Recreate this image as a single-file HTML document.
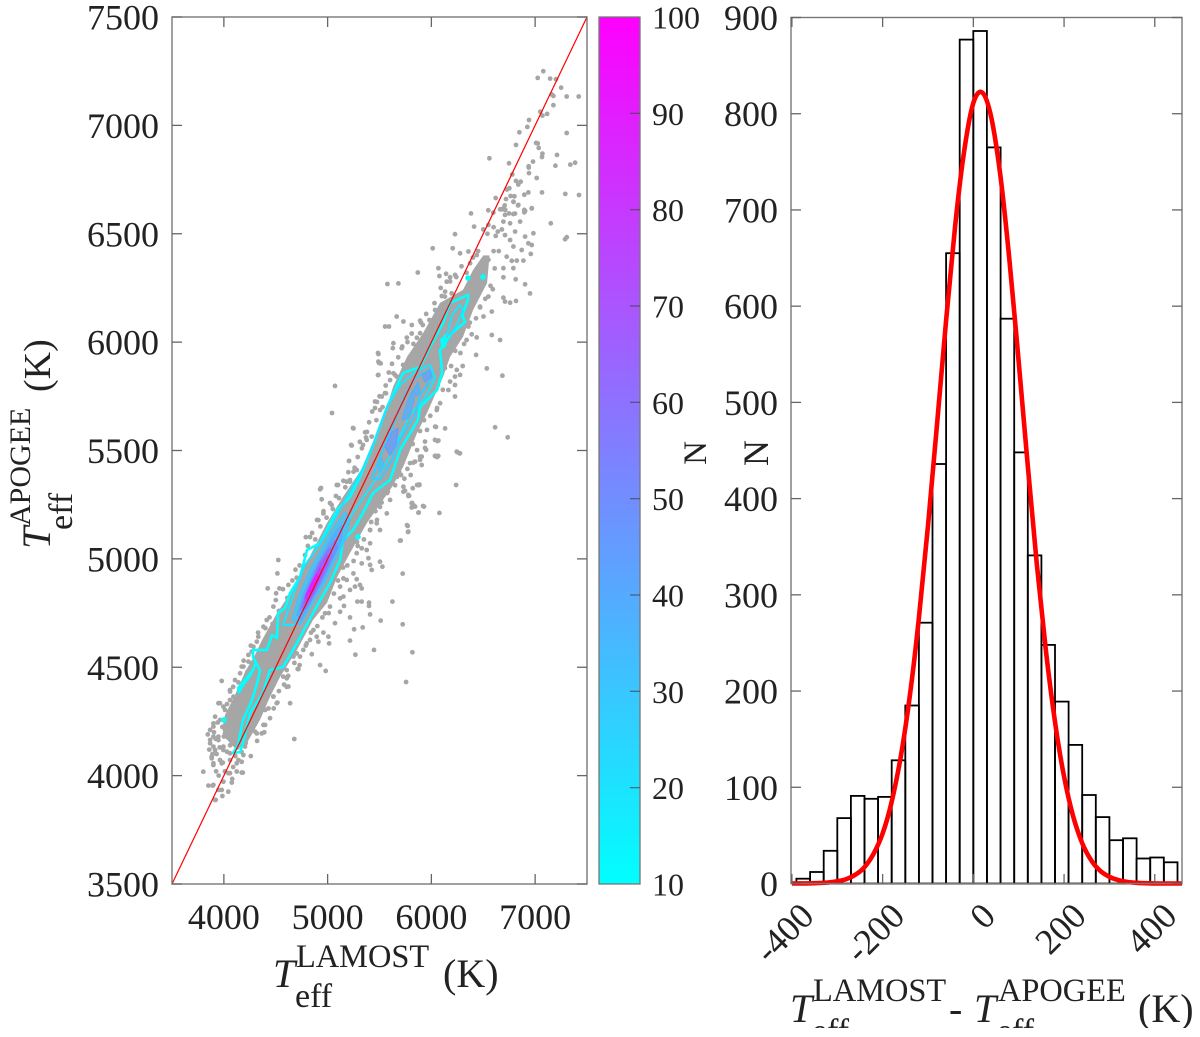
<!DOCTYPE html>
<html>
<head>
<meta charset="utf-8">
<title>LAMOST vs APOGEE effective temperature</title>
<style>
html,body{margin:0;padding:0;background:#fff;}
#fig{display:block;width:1200px;height:1037px;filter:blur(.35px);font-family:"Liberation Serif",serif;fill:#222;}
</style>
</head>
<body>
<svg id="fig" xmlns="http://www.w3.org/2000/svg" width="1200" height="1037" viewBox="0 0 1200 1037">
  <defs>
    <clipPath id="scatter-clip"><rect x="172" y="17" width="415" height="867"/></clipPath>
    <clipPath id="title-clip"><rect x="780" y="960" width="420" height="68"/></clipPath>
    <linearGradient id="cool" x1="0" y1="1" x2="0" y2="0">
      <stop offset="0" stop-color="#00ffff"/><stop offset="1" stop-color="#ff00ff"/>
    </linearGradient>
  </defs>
  <rect width="1200" height="1037" fill="#fff"/>
  <g id="left-plot"></g>
  <g id="cbar">
    <rect x="599" y="17" width="41" height="867" fill="url(#cool)" stroke="#777" stroke-width="1.3"/>
  </g>
  <g id="right-plot"></g>

  <g>
    <text x="273" y="987" font-size="40" font-style="italic">T</text>
    <text x="296" y="967" font-size="32.4">LAMOST</text>
    <text x="295" y="1007" font-size="34">eff</text>
    <text x="443" y="987" font-size="40">(K)</text>
  </g>
  <g>
    <text transform="translate(50,549) rotate(-90)" font-size="40" font-style="italic">T</text>
    <text transform="translate(30,526) rotate(-90)" font-size="30">APOGEE</text>
    <text transform="translate(72,530) rotate(-90)" font-size="34">eff</text>
    <text transform="translate(50,392) rotate(-90)" font-size="38">(K)</text>
  </g>
  <text transform="translate(706,453) rotate(-90)" text-anchor="middle" font-size="33">N</text>
  <text transform="translate(768,453) rotate(-90)" text-anchor="middle" font-size="36">N</text>
  <g clip-path="url(#title-clip)">
    <text x="790" y="1022" font-size="40" font-style="italic">T</text>
    <text x="813" y="1001" font-size="32.4">LAMOST</text>
    <text x="812" y="1042" font-size="34">eff</text>
    <text x="949" y="1022" font-size="40">-</text>
    <text x="974" y="1022" font-size="40" font-style="italic">T</text>
    <text x="998" y="1001" font-size="32.4">APOGEE</text>
    <text x="997" y="1042" font-size="34">eff</text>
    <text x="1138" y="1022" font-size="40">(K)</text>
  </g>
</svg>
<script>
// ---------- scatter panel data (Kelvin) ----------
const scatterTicksX = [4000, 5000, 6000, 7000];
const scatterTicksY = [3500, 4000, 4500, 5000, 5500, 6000, 6500, 7000, 7500];
const scatterRangeX = [3500, 7500];
const scatterRangeY = [3500, 7500];
const oneToOne = [[3500, 3500], [7500, 7500]];

// dense core of the star cloud, where individual stars merge
const starCore = [[3990,4230],[4011,4280],[4107,4372],[4204,4478],[4300,4557],[4368,4626],[4512,4750],[4705,4889],[4859,5041],[4994,5166],[5148,5286],[5341,5424],[5505,5595],[5630,5793],[5765,5932],[5920,6042],[6083,6181],[6305,6241],[6402,6333],[6500,6400],[6560,6400],[6537,6273],[6402,6148],[6305,6024],[6180,5932],[6112,5839],[5958,5673],[5862,5581],[5727,5424],[5621,5332],[5380,5166],[5216,5027],[5091,4916],[4994,4797],[4859,4718],[4705,4580],[4541,4455],[4445,4363],[4348,4257],[4223,4151],[4120,4120],[4040,4160]];

// individually visible stars: [T LAMOST, T APOGEE]
const stars = [
[7079,7250],[7025,7219],[7144,7216],[7201,7213],[7250,7174],[7160,7143],[7176,7136],[7304,7133],[7420,7133],[7176,7093],[7050,7063],[7070,7045],[7115,7053],[6941,7025],[6925,6993],[6848,6968],[7304,6965],[6816,6910],[7009,6919],[7025,6917],[7034,6896],[6559,6848],[7070,6870],[7066,6854],[7211,6864],[6748,6825],[6980,6833],[6938,6811],[6938,6805],[7195,6814],[7339,6819],[7385,6828],[6941,6780],[6780,6774],[7015,6757],[6816,6744],[6861,6740],[6838,6727],[6752,6710],[6729,6704],[6935,6691],[6896,6680],[7066,6691],[7291,6684],[7423,6679],[6620,6665],[6764,6674],[6800,6673],[6719,6660],[6793,6647],[6835,6631],[6707,6631],[6967,6617],[6681,6613],[6662,6613],[6896,6610],[6896,6599],[6549,6608],[6382,6594],[6597,6597],[6748,6594],[6806,6593],[6713,6610],
[6694,6618],[6791,6648],[6839,6633],[6968,6618],[6903,6605],[6710,6587],[6791,6591],[6855,6556],[7151,6548],[6412,6533],[6550,6541],[6694,6556],[6759,6548],[6807,6510],[6983,6502],[7305,6484],[7289,6475],[6228,6498],[6710,6494],[6903,6487],[6759,6471],[6935,6456],[6968,6448],[6013,6433],[6206,6433],[6791,6441],[6871,6425],[6277,6410],[6357,6418],[6437,6402],[6958,6407],[6726,6394],[6823,6376],[6887,6376],[6775,6375],[6373,6364],[6068,6341],[6694,6341],[6791,6341],[5869,6321],[6142,6315],[6229,6310],[6077,6305],[6180,6299],[6694,6299],[6813,6290],[6148,6279],[5576,6268],[5682,6271],[6903,6267],[6592,6244],[6132,6233],[6196,6225],[6550,6210],[6694,6205],[6951,6225],[6816,6190],[6710,6187],[6759,6182],[6100,6213],[6469,6164],[6582,6141],[6036,6148],[5666,6118],[5891,6099],[5730,6095],[5981,6102],[6502,6118],[5554,6072],[5592,6072],[5811,6079],[5917,6079],[6357,6072],[5891,6041],[5763,6021],[6389,6036],[6437,6022],[6582,6033],[6662,6010],[5634,5995],[5827,5992],[6315,5992],[5714,5972],[5628,5972],[5489,5945],[6431,5941],[5489,5910],[5512,5902],[6534,5879],[6302,5890],[6245,5872],[5489,5849],[5634,5856],[6685,5845],[6277,5849],[6228,5841],[6180,5818],[6228,5802],[5602,5825],[5666,5841],[5457,5726],[5563,5764],[5522,5749],[6164,5779],[6228,5749],[6084,5718],[6052,5687],[5506,5687],[5249,5602],[6036,5610],[6132,5602],[6614,5607],[6736,5561],[5361,5584],[5425,5564],[5377,5549],[5232,5523],[6068,5546],[5939,5541],[6036,5475],[6061,5475],[6251,5492],[6270,5487],[5891,5472],[5207,5452],[5907,5433],[5843,5449],[5281,5410],[5249,5402],[5801,5387],[5885,5341],[6238,5341],[5820,5326],[5730,5333],[5152,5360],[5730,5310],[5779,5290],[5216,5356],
[6058,5544],[6244,5495],[6276,5487],[6035,5475],[6067,5475],[5949,5503],[5907,5472],[5827,5444],[5891,5457],[5769,5415],[5708,5387],[5884,5343],[5746,5314],[5785,5291],[5810,5257],[5833,5246],[5929,5241],[5810,5237],[5878,5214],[6077,5212],[5772,5152],[5778,5126],[5704,5085],[5724,4932],[5724,4698],[5817,4569],[5756,4432],
[4927,5321],[4943,5275],[5088,5341],[5184,5356],[5039,5249],[4911,5179],[4959,5210],[5874,5341],[5778,5295],[5875,5213],[5843,5241],[5698,5084],[5624,4803],[5447,4580],[5409,4744],[5512,4715],[5399,4798],[5399,4783],[5287,4803],[5328,4803],[5255,4675],[5338,4684],[5216,4730],[5216,4623],[5268,4558],[5409,4972],[5528,4964],[5425,4949],[5505,4987],[5393,5003],[5264,4872],[5312,4880],[5328,4864],[5280,4906],[5120,4818],[5158,4783],[5120,4756],[5071,4703],[5007,4641],[5014,4610],[4959,4660],[4911,4618],[4847,4560],[4927,4510],[4981,4483],[4712,4492],[4606,4449],[4606,4410],[4638,4334],[4516,4337],[4679,4169],[4172,4014],[3802,4018],[3979,4437],
[4422,4864],[4525,4995],[4516,4933],[4535,4864],[4503,4841],[4622,4880],[4702,4913],[4782,5018],[4477,4780],[4413,4718],[4381,4687],[4332,4641],[4268,4572],[4172,4503],[4236,4526],[4107,4441],[4059,4395],[4124,4364],[3963,4334],[4011,4303],[3915,4272],[3899,4226],[3899,4180],[3867,4149],[3947,4164],[3883,4087],[3899,4057],[3995,4118],[3963,4072],[4124,4057],[4059,4011],[3851,3954],[3899,3957],[3995,3972],[4043,3926],[3915,3888],[3979,3934],[4059,4072],[4172,4064],[4091,4234],[4075,4287],[4011,4211],[4124,4303],[4172,4318],[4059,4349],[4252,4380],[4236,4441],[4156,4380],[4300,4472],[4332,4533],[4381,4564],[4445,4626],[4541,4687],[4606,4749],[4638,4826],[4750,4926],
[4220,4195],[4300,4203],[4381,4234],[4349,4287],[4397,4303],[4477,4364],[4509,4334],[4445,4410],[4573,4457],[4606,4487],[4670,4549],[4734,4549],[4766,4580],[4830,4626],[4895,4641],[5023,4780],[5152,4826],[5216,4857],[5184,4903],[5248,4933],[5328,4979],[5377,5041],[5409,5072],[5505,5133],[5473,5164],[5570,5210],[5602,5272],[5473,5272],[5409,5133],[5328,5049],[5280,5026],[5152,4910],[5120,4872],[4991,4833],[4975,4749],[4863,4672],[4798,4610],[4702,4564],
[3892,3954],[3921,3888],[3986,3906],[3947,3934],[4076,3968],[4182,4014],[4124,4019],[4043,4011],[3899,4049],[3979,4057],[3883,4080],[3915,4118],[3867,4165],[3899,4134],[3995,4134],[4060,4103],[4140,4072],[4188,4095],[3947,4180],[3867,4211],[3899,4241],[3963,4257],[4011,4195],[4092,4195],[4076,4226],[3947,4334],[3995,4318],[4060,4280],[4140,4257],[4060,4388],[4092,4364],[4156,4349],[4188,4503],[4156,4472],[4268,4518],[4236,4557],[4285,4595],[4317,4618],[4622,4411],[4718,4492],[4477,4365],[4445,4265],[4397,4234],[4317,4195],[4204,4134],[4188,4195],[4365,4195],
[5071,5798],[5042,5673],[5245,5604],[5226,5526],[5206,5452],[4936,5327],[6045,5609],[6035,5549],[5939,5512],[6055,5470],[5814,5258],[5862,5341],[5920,5244],[5765,5156],[5775,5124],[5486,5950],[5495,5904],[5486,5848],[5476,5724],[5457,5696],[5553,5765],[5650,5849],[5727,5895],[5380,5586],[5341,5526],[5216,5364],[5100,5341],[5023,5258],[4898,5180],[4830,5101],[6055,5696],[5958,5595],[5862,5502],[5794,5442],[5669,5378],[5573,5304],[5505,5240],[5476,5180],[5409,5133],[5283,5078]
];
// stars that crowd the lower tip and both flanks of the cloud
const fringeStars = [
[3930,4100],[3990,4060],[4030,4110],[4090,4040],[4110,4090],[4060,4140],[3960,4130],[3920,4170],[4000,4180],[4130,4130],[4170,4110],[4210,4150],[3905,4200],[3940,4245],[3985,4225],[4040,4175],[3890,4100],[3925,4020],[3950,4000],[4010,4020],[4080,3985],[3860,4120],[3845,4190],
[4030,4330],[4090,4410],[4140,4430],[4190,4530],[4230,4480],[4260,4600],[4300,4530],[4330,4660],[4370,4590],[4400,4680],[4440,4730],[4470,4700],[4500,4810],[4530,4760],[4570,4860],[4610,4820],[4660,4900],[4690,4950],[4730,4970],[4770,4960],[4810,5060],[4790,5100],[4850,5120],[4880,5090],[4930,5150],[4960,5220],[4990,5190],[5050,5230],[5080,5290],[5110,5280],[5170,5330],[5200,5400],[5260,5420],[5290,5470],[5330,5510],[5310,5540],[5370,5560],[5400,5630],[5430,5680],[5470,5640],[5500,5750],[5530,5700],[5560,5800],[5590,5860],[5620,5900],[5680,5930],[5720,5980],[5770,6000],[5810,6040],[5860,6020],[5900,6090],[5950,6130],[5990,6100],[6030,6180],[6090,6250],[6130,6210],[6180,6280],[6240,6300],[6290,6350],[6340,6320],[6400,6390],[6450,6420],[6500,6520],[6540,6500],[6600,6530],[6640,6510],[6680,6520],[6620,6490],
[4260,4090],[4320,4160],[4390,4200],[4430,4310],[4480,4310],[4530,4390],[4580,4420],[4620,4460],[4680,4520],[4730,4510],[4790,4600],[4840,4660],[4900,4690],[4950,4730],[5010,4750],[5060,4840],[5100,4900],[5150,4960],[5190,4970],[5250,4990],[5290,5060],[5350,5090],[5420,5170],[5460,5220],[5520,5260],[5580,5310],[5650,5340],[5690,5400],[5740,5370],[5760,5500],[5820,5530],[5890,5590],[5930,5640],[5990,5660],[6000,5750],[6060,5800],[6110,5780],[6130,5880],[6190,5890],[6230,5960],[6280,5950],[6340,6010],[6370,6090],[6430,6110],[6470,6160],[6520,6200],[6570,6260],[6610,6340],[6650,6420],[6600,6420],[6550,6380]
];

// density contours: a level (N) and a closed outline in Kelvin
const contourLevels = [10, 10, 10, 20, 20, 28, 30, 32, 38, 38, 40, 42, 45, 50, 60, 70, 80, 90];
const contourOutlines = [
[[4088,4104],[4136,4141],[4184,4257],[4271,4349],[4329,4441],[4348,4487],[4281,4547],[4281,4580],[4416,4580],[4464,4649],[4512,4635],[4522,4750],[4589,4773],[4638,4843],[4734,4917],[4801,5041],[4927,5073],[5091,5226],[5216,5286],[5312,5378],[5438,5526],[5573,5701],[5727,5858],[5891,5885],[5987,5978],[6112,6088],[6180,6181],[6353,6218],[6353,6195],[6296,6125],[6325,6093],[6199,6042],[6083,5964],[6103,5858],[6055,5779],[5891,5701],[5871,5641],[5698,5502],[5602,5364],[5438,5304],[5341,5212],[5245,5133],[5148,5087],[5120,4995],[5023,4889],[4859,4750],[4705,4612],[4570,4501],[4445,4487],[4377,4381],[4252,4289],[4184,4151],[4156,4109]],
[[4300,4511],[4281,4487],[4204,4441],[4136,4404],[4146,4385],[4185,4418],[4252,4460]],
[[6100,6000],[6130,6030],[6135,5985],[6110,5975]],
[[4570,4695],[4686,4857],[4782,4972],[4975,5101],[5168,5272],[5332,5410],[5457,5549],[5582,5710],[5698,5802],[5843,5862],[5987,5895],[6035,5835],[5939,5742],[5794,5664],[5679,5549],[5553,5433],[5428,5341],[5293,5249],[5168,5156],[5071,5041],[4975,4940],[4830,4820],[4686,4695]],
[[6151,6033],[6199,6125],[6276,6172],[6305,6148],[6247,6079],[6180,6033]],
[[5428,5373],[5553,5526],[5650,5641],[5746,5756],[5843,5835],[5987,5872],[6006,5835],[5891,5756],[5843,5664],[5698,5549],[5621,5456],[5505,5364]],
[[4657,4718],[4715,4820],[4830,4949],[4946,5050],[5062,5147],[5168,5216],[5216,5179],[5168,5087],[5071,4995],[4975,4893],[4859,4797],[4734,4695]],
[[5476,5433],[5515,5466],[5544,5433],[5505,5401]],
[[5717,5641],[5775,5733],[5823,5779],[5833,5733],[5785,5650]],
[[5833,5779],[5871,5816],[5891,5770],[5852,5752]],
[[4705,4741],[4763,4833],[4859,4940],[4975,5041],[5071,5124],[5139,5156],[5139,5087],[5042,4995],[4946,4893],[4830,4797],[4744,4718]],
[[5910,5849],[5987,5872],[6006,5839],[5939,5816]],
[[5553,5516],[5621,5586],[5679,5604],[5660,5526],[5602,5479]],
[[4734,4764],[4801,4857],[4888,4949],[4994,5041],[5071,5087],[5091,5050],[5004,4958],[4907,4866],[4801,4773]],
[[4753,4778],[4830,4880],[4927,4986],[5023,5050],[5042,5018],[4956,4926],[4859,4833],[4772,4764]],
[[4772,4797],[4840,4880],[4927,4967],[4994,5018],[5004,4986],[4917,4903],[4840,4824]],
[[4782,4820],[4850,4893],[4927,4958],[4946,4940],[4869,4857],[4801,4810]],
[[4792,4833],[4850,4889],[4898,4926],[4907,4912],[4850,4857]]
];
// isolated single-bin contour islands
const contourSpots = [[4001,4257],[5293,5101],[6353,6296],[6498,6301],[6112,6010]];

// ---------- colorbar data ----------
const cbarRange = [10, 100];
const cbarTicks = [20, 30, 40, 50, 60, 70, 80, 90];
const cbarLabels = [10, 20, 30, 40, 50, 60, 70, 80, 90, 100];

// ---------- histogram data ----------
const histRangeX = [-402, 460];
const histRangeY = [0, 900];
const histTicksX = [-400, -200, 0, 200, 400];
const histTicksY = [0, 100, 200, 300, 400, 500, 600, 700, 800, 900];
const binEdges = [-390,-360,-330,-300,-270,-240,-210,-180,-150,-120,-90,-60,-30,0,30,60,90,120,150,180,210,240,270,300,330,360,390,420,450];
const binCounts = [5,12,34,68,91,88,90,128,185,271,436,655,877,886,765,587,448,341,248,189,144,92,69,45,47,26,27,22];
const fitDeltaT = [-400,-380,-360,-340,-320,-300,-280,-260,-240,-220,-200,-180,-160,-140,-120,-100,-80,-60,-40,-20,0,20,40,60,80,100,120,140,160,180,200,220,240,260,280,300,320,340,360,380,400,420,440,460];
const fitCounts = [0,0.1,0.2,0.5,1,2.3,4.6,9.1,17,31,52,85,132,195,276,372,478,585,684,762,811,822,795,734,646,542,434,332,242,168,111,70,42,24,13,7,3.5,1.6,0.7,0.3,0.1,0,0,0];

// ---------- axis functions ----------
const SVGNS = 'http://www.w3.org/2000/svg';
const sx = v => 172 + (v - scatterRangeX[0]) / (scatterRangeX[1] - scatterRangeX[0]) * 415;
const sy = v => 884 - (v - scatterRangeY[0]) / (scatterRangeY[1] - scatterRangeY[0]) * 867;
const cy = v => 884 - (v - cbarRange[0]) / (cbarRange[1] - cbarRange[0]) * 867;
const hx = v => 791 + (v - histRangeX[0]) / (histRangeX[1] - histRangeX[0]) * 391;
const hy = v => 883.5 - (v - histRangeY[0]) / (histRangeY[1] - histRangeY[0]) * 866;
const coolColor = n => {
  const t = (n - cbarRange[0]) / (cbarRange[1] - cbarRange[0]);
  return 'rgb(' + Math.round(255 * t) + ',' + Math.round(255 * (1 - t)) + ',255)';
};
const mk = (tag, parent) => {
  const el = document.createElementNS(SVGNS, tag);
  parent.appendChild(el);
  return el;
};
const polyPoints = (list) => list.map(p => sx(p[0]).toFixed(1) + ',' + sy(p[1]).toFixed(1)).join(' ');
const smoothPath = (pts) => {
  let d = 'M' + pts[0][0].toFixed(1) + ' ' + pts[0][1].toFixed(1);
  for (let i = 0; i < pts.length - 1; i++) {
    const p0 = pts[Math.max(i - 1, 0)];
    const p1 = pts[i];
    const p2 = pts[i + 1];
    const p3 = pts[Math.min(i + 2, pts.length - 1)];
    d += 'C' + (p1[0] + (p2[0] - p0[0]) / 6).toFixed(1) + ' ' + (p1[1] + (p2[1] - p0[1]) / 6).toFixed(1) + ' ' +
         (p2[0] - (p3[0] - p1[0]) / 6).toFixed(1) + ' ' + (p2[1] - (p3[1] - p1[1]) / 6).toFixed(1) + ' ' +
         p2[0].toFixed(1) + ' ' + p2[1].toFixed(1);
  }
  return d;
};

const left = document.getElementById('left-plot');
const cbar = document.getElementById('cbar');
const right = document.getElementById('right-plot');

// ---------- scatter marks ----------
const marks = mk('g', left);
marks.setAttribute('clip-path', 'url(#scatter-clip)');



const core = mk('polygon', marks);
core.setAttribute('points', polyPoints(starCore));
core.setAttribute('fill', '#a6a6a6');



stars.concat(fringeStars).forEach(s => {
  const c = mk('circle', marks);
  c.setAttribute('cx', sx(s[0]).toFixed(1));
  c.setAttribute('cy', sy(s[1]).toFixed(1));
  c.setAttribute('r', '2.4');
  c.setAttribute('fill', '#a6a6a6');
  
  
});

contourOutlines.forEach((outline, i) => {
  const level = contourLevels[i];
  const p = mk('polygon', marks);
  p.setAttribute('points', polyPoints(outline));
  p.setAttribute('fill', level >= 30 ? coolColor(level) : 'none');
  p.setAttribute('stroke', coolColor(level));
  p.setAttribute('stroke-width', level <= 10 ? '2.6' : (level < 30 ? '2' : '1.2'));
  p.setAttribute('stroke-linejoin', 'round');
  p.setAttribute('fill-opacity', level >= 30 ? '0.75' : '0');
  
  
});

contourSpots.forEach(s => {
  const c = mk('circle', marks);
  c.setAttribute('cx', sx(s[0]).toFixed(1));
  c.setAttribute('cy', sy(s[1]).toFixed(1));
  c.setAttribute('r', '2.8');
  c.setAttribute('fill', coolColor(cbarRange[0]));
  
  
});

const ref = mk('line', marks);
ref.setAttribute('x1', sx(oneToOne[0][0]));
ref.setAttribute('y1', sy(oneToOne[0][1]));
ref.setAttribute('x2', sx(oneToOne[1][0]));
ref.setAttribute('y2', sy(oneToOne[1][1]));
ref.setAttribute('stroke', '#ff0000');
ref.setAttribute('stroke-width', '1.2');



// ---------- scatter axes ----------
const frameL = mk('rect', left);
frameL.setAttribute('x', 172);
frameL.setAttribute('y', 17);
frameL.setAttribute('width', 415);
frameL.setAttribute('height', 867);
frameL.setAttribute('fill', 'none');
frameL.setAttribute('stroke', '#777');
frameL.setAttribute('stroke-width', '1.4');



scatterTicksX.forEach(v => {
  [[884, 874], [17, 27]].forEach(pair => {
    const t = mk('line', left);
    t.setAttribute('x1', sx(v));
    t.setAttribute('x2', sx(v));
    t.setAttribute('y1', pair[0]);
    t.setAttribute('y2', pair[1]);
    t.setAttribute('stroke', '#666');
    t.setAttribute('stroke-width', '1.3');
    
    
  });
  const l = mk('text', left);
  l.setAttribute('x', sx(v));
  l.setAttribute('y', 929);
  l.setAttribute('text-anchor', 'middle');
  l.setAttribute('font-size', '36');
  
  
  l.textContent = v;
});
scatterTicksY.forEach(v => {
  [[172, 182], [587, 577]].forEach(pair => {
    const t = mk('line', left);
    t.setAttribute('y1', sy(v));
    t.setAttribute('y2', sy(v));
    t.setAttribute('x1', pair[0]);
    t.setAttribute('x2', pair[1]);
    t.setAttribute('stroke', '#666');
    t.setAttribute('stroke-width', '1.3');
    
    
  });
  const l = mk('text', left);
  l.setAttribute('x', 159);
  l.setAttribute('y', sy(v) + 12.5);
  l.setAttribute('text-anchor', 'end');
  l.setAttribute('font-size', '36');
  
  
  l.textContent = v;
});

// ---------- colorbar ----------
cbarTicks.forEach(v => {
  const t = mk('line', cbar);
  t.setAttribute('x1', 630);
  t.setAttribute('x2', 640);
  t.setAttribute('y1', cy(v));
  t.setAttribute('y2', cy(v));
  t.setAttribute('stroke', '#444');
  t.setAttribute('stroke-opacity', '0.7');
  t.setAttribute('stroke-width', '1.3');
  
  
});
cbarLabels.forEach(v => {
  const l = mk('text', cbar);
  l.setAttribute('x', 652);
  l.setAttribute('y', cy(v) + 11.5);
  l.setAttribute('font-size', '32');
  
  
  l.textContent = v;
});

// ---------- histogram ----------
binCounts.forEach((n, i) => {
  const r = mk('rect', right);
  r.setAttribute('x', hx(binEdges[i]).toFixed(1));
  r.setAttribute('y', hy(n).toFixed(1));
  r.setAttribute('width', (hx(binEdges[i + 1]) - hx(binEdges[i])).toFixed(1));
  r.setAttribute('height', (hy(0) - hy(n)).toFixed(1));
  r.setAttribute('fill', 'none');
  r.setAttribute('stroke', '#000');
  r.setAttribute('stroke-width', '1.8');
  
  
});

const fit = mk('path', right);
fit.setAttribute('d', smoothPath(fitDeltaT.map((v, i) => [hx(v), hy(fitCounts[i])])));
fit.setAttribute('fill', 'none');
fit.setAttribute('stroke', '#ff0000');
fit.setAttribute('stroke-width', '4.6');
fit.setAttribute('stroke-linejoin', 'round');



const frameR = mk('rect', right);
frameR.setAttribute('x', 791);
frameR.setAttribute('y', 17.5);
frameR.setAttribute('width', 391);
frameR.setAttribute('height', 866);
frameR.setAttribute('fill', 'none');
frameR.setAttribute('stroke', '#777');
frameR.setAttribute('stroke-width', '1.4');



histTicksX.forEach(v => {
  [[883.5, 874], [17.5, 27]].forEach(pair => {
    const t = mk('line', right);
    t.setAttribute('x1', hx(v));
    t.setAttribute('x2', hx(v));
    t.setAttribute('y1', pair[0]);
    t.setAttribute('y2', pair[1]);
    t.setAttribute('stroke', '#666');
    t.setAttribute('stroke-width', '1.3');
    
    
  });
  const l = mk('text', right);
  l.setAttribute('transform', 'translate(' + (hx(v) + 24).toFixed(1) + ',918) rotate(-45)');
  l.setAttribute('text-anchor', 'end');
  l.setAttribute('font-size', '36');
  
  
  l.textContent = v;
});
histTicksY.forEach(v => {
  [[791, 801], [1182, 1172]].forEach(pair => {
    const t = mk('line', right);
    t.setAttribute('y1', hy(v));
    t.setAttribute('y2', hy(v));
    t.setAttribute('x1', pair[0]);
    t.setAttribute('x2', pair[1]);
    t.setAttribute('stroke', '#666');
    t.setAttribute('stroke-width', '1.3');
    
    
  });
  const l = mk('text', right);
  l.setAttribute('x', 778);
  l.setAttribute('y', hy(v) + 12.5);
  l.setAttribute('text-anchor', 'end');
  l.setAttribute('font-size', '36');
  
  
  l.textContent = v;
});
</script>
</body>
</html>
